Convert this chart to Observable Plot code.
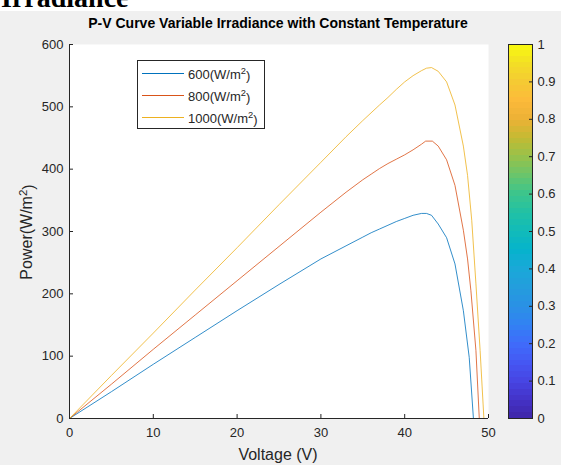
<!DOCTYPE html>
<html><head><meta charset="utf-8">
<script src="https://cdn.jsdelivr.net/npm/d3@7"></script>
<script src="https://cdn.jsdelivr.net/npm/@observablehq/plot@0.6"></script>
<style>
html,body{margin:0;padding:0;background:#fff;}
#wrap{position:relative;width:561px;height:465px;background:#f0f0f0;overflow:hidden;}
#wrap svg{position:absolute;left:0;top:0;}
#head{position:absolute;left:0;top:0;width:561px;height:11px;background:#fff;overflow:hidden;}
#head span{position:absolute;left:1px;top:-16px;font:bold 28px "Liberation Serif","Times New Roman",serif;line-height:28px;color:#000;white-space:nowrap;}
</style></head>
<body><div id="wrap"><div id="head"><span>Irradiance</span></div></div>
<script>
// ---- data ----
const names = ["600", "800", "1000"];
const colors = ["#0072BD", "#D95319", "#EDB120"];
const v600 = [0, 5, 10, 15, 20, 25, 30, 33, 35, 36, 37, 38, 39, 40, 41, 42, 42.6, 43.2, 44, 45, 46, 47, 47.7, 48.2];
const p600 = [0, 43, 87, 130, 173, 215, 256, 277, 291, 298, 304, 310, 316, 321, 326, 329, 329, 326, 312, 290, 248, 173, 98, 0];
const v800 = [0, 5, 10, 15, 20, 25, 30, 33, 35, 36, 37, 38, 39, 40, 41, 42, 42.5, 43.3, 44, 45, 46, 47, 47.5, 47.9, 48.5, 48.9];
const p800 = [0, 55, 111, 166, 221, 276, 331, 363, 383, 392, 401, 409, 416, 423, 431, 440, 445, 445, 437, 415, 374, 302, 256, 205, 109, 0];
const v1000 = [0, 5, 10, 15, 20, 25, 30, 33, 35, 37, 38, 39, 40, 41, 42, 42.6, 43.2, 44, 45, 46, 47, 47.5, 48, 48.5, 49, 49.45];
const p1000 = [0, 69, 137, 206, 274, 343, 411, 452, 478, 503, 515, 528, 540, 550, 558, 562, 563, 557, 540, 503, 437, 390, 318, 216, 109, 0];
const xTicks = [0, 10, 20, 30, 40, 50];
const yTicks = [0, 100, 200, 300, 400, 500, 600];
const cbTicks = [0, 0.1, 0.2, 0.3, 0.4, 0.5, 0.6, 0.7, 0.8, 0.9, 1];
const parulaPos = [0, 0.05, 0.1, 0.15, 0.2, 0.25, 0.3, 0.35, 0.4, 0.45, 0.5, 0.55, 0.6, 0.65, 0.7, 0.75, 0.8, 0.85, 0.9, 0.95, 1];
const parulaCol = ["#3E26A8", "#4433C8", "#4745E4", "#4558F3", "#3F6CFB", "#3281F3", "#2A91E5", "#239EDD", "#1AA8D8", "#05B3CC", "#12BBB9", "#22C1A4", "#3CC58C", "#6AC56B", "#98C24A", "#C4BA32", "#EDB136", "#FCBA3A", "#F5CB33", "#F3DF25", "#F9FB0E"];
const title = "P-V Curve Variable Irradiance with Constant Temperature";

// ---- layout ----
const FONT = '"Liberation Sans", Arial, Helvetica, sans-serif';
const AX = "#262626";
const W = 561, H = 465, mL = 69, mR = 73, mT = 44, mB = 47;
const tickPx = 4;
const xPerPx = 50 / (W - mL - mR), yPerPx = 600 / (H - mT - mB);

const rows = [];
[[v600, p600], [v800, p800], [v1000, p1000]].forEach(([vs, ps], k) =>
  vs.forEach((v, i) => rows.push({s: names[k], v, p: ps[i]})));

const main = Plot.plot({
  width: W, height: H, marginLeft: mL, marginRight: mR, marginTop: mT, marginBottom: mB,
  style: {background: "transparent", fontFamily: FONT, fontSize: "13px", color: AX},
  x: {domain: [0, 50]},
  y: {domain: [0, 600]},
  color: {domain: names, range: colors},
  marks: [
    Plot.frame({fill: "white", stroke: "none"}),
    Plot.axisX({ticks: xTicks, tickSize: 0, tickPadding: 9, label: null, fontSize: 13, tickFormat: d => String(d)}),
    Plot.axisY({ticks: yTicks, tickSize: 0, tickPadding: 6, label: null, fontSize: 13, tickFormat: d => String(d)}),
    Plot.ruleX(xTicks, {y1: 0, y2: tickPx * yPerPx, stroke: AX, strokeWidth: 1}),
    Plot.ruleY(yTicks, {x1: 0, x2: tickPx * xPerPx, stroke: AX, strokeWidth: 1}),
    Plot.line(rows, {x: "v", y: "p", z: "s", stroke: "s", strokeWidth: 1, strokeOpacity: 0.8}),
    Plot.ruleX([0], {stroke: AX, strokeWidth: 1}),
    Plot.ruleY([0], {stroke: AX, strokeWidth: 1})
  ]
});
document.getElementById("wrap").appendChild(main);

// ---- colorbar ----
const cbL = 508, cbR = 532;
const nBands = 64;
const interp = d3.scaleLinear().domain(parulaPos).range(parulaCol).interpolate(d3.interpolateRgb);
const bands = d3.range(nBands).map(i => ({y1: i / nBands, y2: (i + 1) / nBands, c: interp((i + 0.5) / nBands)}));
const cb = Plot.plot({
  width: W, height: H, marginLeft: cbL, marginRight: W - cbR, marginTop: mT, marginBottom: mB,
  style: {background: "transparent", fontFamily: FONT, fontSize: "13px", color: AX},
  x: {domain: [0, 1], axis: null},
  y: {domain: [0, 1]},
  color: {type: "identity"},
  marks: [
    Plot.rect(bands, {x1: 0, x2: 1, y1: "y1", y2: "y2", fill: "c", shapeRendering: "crispEdges"}),
    Plot.ruleY(cbTicks, {x1: 1 - 3 / (cbR - cbL), x2: 1, stroke: AX}),
    Plot.frame({stroke: AX}),
    Plot.axisY({anchor: "right", ticks: cbTicks, tickSize: 0, tickPadding: 5, label: null, fontSize: 13,
      tickFormat: d => String(+d.toFixed(1))})
  ]
});
document.getElementById("wrap").appendChild(cb);

// ---- titles, labels, legend ----
const ov = d3.select("#wrap").append("svg").attr("width", W).attr("height", H)
  .style("font-family", FONT);
ov.append("text").attr("x", 278).attr("y", 28).attr("text-anchor", "middle")
  .attr("font-weight", "bold").attr("font-size", 14).attr("fill", "#000").text(title);
ov.append("text").attr("x", 278).attr("y", 460).attr("text-anchor", "middle")
  .attr("font-size", 16).attr("fill", AX).text("Voltage (V)");
const yl = ov.append("text").attr("transform", "translate(32,232) rotate(-90)").attr("text-anchor", "middle")
  .attr("font-size", 16).attr("fill", AX);
yl.append("tspan").text("Power(W/m");
yl.append("tspan").attr("dy", "-0.45em").attr("font-size", "0.72em").text("2");
yl.append("tspan").attr("dy", "0.45em").text(")");

const lg = ov.append("g");
lg.append("rect").attr("x", 137.5).attr("y", 60.5).attr("width", 127).attr("height", 68)
  .attr("fill", "white").attr("stroke", AX).attr("stroke-width", 1);
const rowY = [73.5, 95.5, 117.5];
names.forEach((n, i) => {
  lg.append("line").attr("x1", 142).attr("x2", 184).attr("y1", rowY[i]).attr("y2", rowY[i])
    .attr("stroke", colors[i]).attr("stroke-width", 1);
  const t = lg.append("text").attr("x", 188).attr("y", rowY[i] + 5).attr("font-size", 13).attr("fill", AX);
  t.append("tspan").text(n + "(W/m");
  t.append("tspan").attr("dy", "-0.45em").attr("font-size", "0.72em").text("2");
  t.append("tspan").attr("dy", "0.45em").text(")");
});
</script></body></html>
